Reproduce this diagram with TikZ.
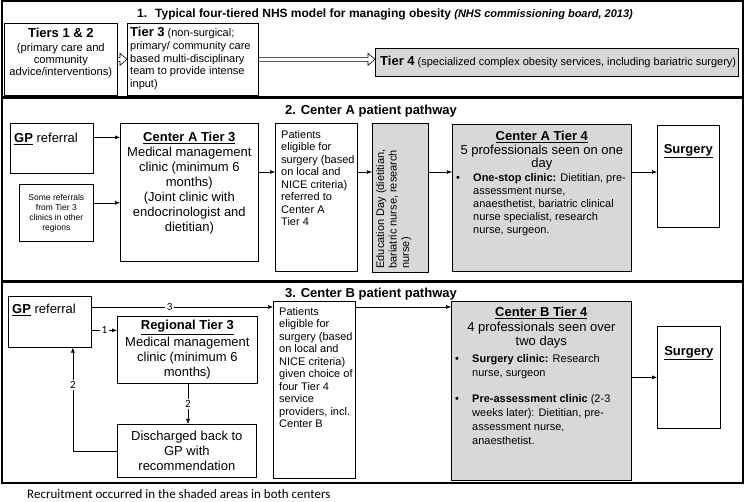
\documentclass[tikz,border=0pt]{standalone}
\usepackage{fontspec}
\setmainfont{Liberation Sans}
\newfontfamily\calibri{Carlito}
\usetikzlibrary{arrows.meta,positioning,calc}
\newcommand{\fsz}[2]{\fontsize{#1}{#2}\selectfont}
\definecolor{shade}{RGB}{216,216,216}

\begin{document}
\begin{tikzpicture}[x=1pt,y=-1pt,
    box/.style={draw, line width=0.7pt, inner sep=0pt, anchor=north west},
    grey/.style={box, fill=shade},
    panel/.style={draw, line width=1.2pt},
    txt/.style={inner sep=0pt, align=left, font=\fsz{11}{12.5}},
    head/.style={inner sep=0pt, align=center, font=\fsz{13}{15}},
    arr/.style={-{Latex[length=5pt,width=4pt]}, line width=0.6pt},
    num/.style={fill=white, inner sep=1.5pt, font=\calibri\fsz{11}{12}}]
    \useasboundingbox (0,0) rectangle (745,502);
    %% Panels
    \draw[panel] (2,1) rectangle (743,97);
    \draw[panel] (2,98) rectangle (743,281);
    \draw[panel] (2,282) rectangle (743,483);

    %% 1. NHS model
    \node[anchor=west, inner sep=0pt, font=\bfseries\fsz{12}{14}] (title1) at (137,14) {1.\hspace{8pt}Typical four-tiered NHS model for managing obesity {\itshape\fsz{11}{12}(NHS commissioning board, 2013)}};
    \node[box, minimum width=113pt, minimum height=72pt] (t12) at (4,23) {};
    \node[head, anchor=north, font=\fsz{11.2}{12}] (t12txt) at ([yshift=-5pt]t12.north) {{\fsz{13}{15}\textbf{Tiers 1 \& 2}}\\[2pt](primary care and\\community\\advice/interventions)};
    \node[box, minimum width=131pt, minimum height=72pt] (t3) at (127,23) {};
    \node[txt, anchor=north west, font=\fsz{11}{12.7}] (t3txt) at ([xshift=3pt,yshift=-4pt]t3.north west) {{\fsz{13}{15}\textbf{Tier 3}} (non-surgical;\\primary/ community care\\based multi-disciplinary\\team to provide intense\\input)};
    \node[grey, minimum width=363pt, minimum height=28pt] (t4) at (375,48) {};
    \node[txt, anchor=west, font=\fsz{11}{13}] (t4txt) at ([xshift=5pt]t4.west) {{\fsz{13}{15}\textbf{Tier 4}} (specialized complex obesity services, including bariatric surgery)};
    \coordinate (t3tip) at (t3.west |- t12.east);
    \coordinate (t4tip) at (t4.west |- t3.east);
    \draw[line width=0.6pt] ([yshift=2pt]t12.east) -- ([shift={(-7pt,2pt)}]t3tip) -- ([shift={(-7pt,6pt)}]t3tip) -- (t3tip) -- ([shift={(-7pt,-6pt)}]t3tip) -- ([shift={(-7pt,-2pt)}]t3tip) -- ([yshift=-2pt]t12.east);
    \draw[line width=0.6pt] ([yshift=2pt]t3.east) -- ([shift={(-7pt,2pt)}]t4tip) -- ([shift={(-7pt,6pt)}]t4tip) -- (t4tip) -- ([shift={(-7pt,-6pt)}]t4tip) -- ([shift={(-7pt,-2pt)}]t4tip) -- ([yshift=-2pt]t3.east);

    %% 2. Center A
    \node[head, font=\bfseries\fsz{13}{15}] (title2) at (371,111) {2. Center A patient pathway};
    \node[box, minimum width=83pt, minimum height=50pt] (gpA) at (10,123) {};
    \node[txt, anchor=north west, font=\fsz{13}{15}] (gpAtxt) at ([xshift=4pt,yshift=-10pt]gpA.north west) {\underline{\textbf{GP}} referral};
    \node[box, minimum width=74pt, minimum height=57pt, align=center, font=\fsz{8.5}{10}] (someA) at (19,184) {Some referrals\\from Tier 3\\clinics in other\\regions};
    \node[box, minimum width=138pt, minimum height=138pt] (tierA3) at (120,123) {};
    \node[head, anchor=north] (tierA3txt) at ([yshift=-9pt]tierA3.north) {\underline{\textbf{Center A Tier 3}}\\Medical management\\clinic (minimum 6\\months)\\(Joint clinic with\\endocrinologist and\\dietitian)};
    \node[box, minimum width=82pt, minimum height=148pt] (patA) at (275,123) {};
    \node[txt, anchor=north west] (patAtxt) at ([xshift=6pt,yshift=-7pt]patA.north west) {Patients\\eligible for\\surgery (based\\on local and\\NICE criteria)\\referred to\\Center A\\Tier 4};
    \node[grey, minimum width=56pt, minimum height=149pt] (eduA) at (372,123) {};
    \node[txt, rotate=90, anchor=north west] (eduAtxt) at ([xshift=4pt,yshift=4pt]eduA.south west) {Education Day (dietitian,\\bariatric nurse, research\\nurse)};
    \node[grey, minimum width=179pt, minimum height=147pt] (tierA4) at (452,124) {};
    \node[head, anchor=north, font=\fsz{13}{13.5}] (tierA4head) at ([yshift=-7pt]tierA4.north) {\underline{\textbf{Center A Tier 4}}\\5 professionals seen on one\\day};
    \node[txt, anchor=north west, font=\fsz{11}{13}] (tierA4list) at ([xshift=4pt,yshift=-48pt]tierA4.north west) {\begin{tabular}{@{}p{12pt}@{\hspace{5pt}}l@{}}
        \textbullet & \textbf{One-stop clinic:} Dietitian, pre-\\
        & assessment nurse,\\
        & anaesthetist, bariatric clinical\\
        & nurse specialist, research\\
        & nurse, surgeon.
    \end{tabular}};
    \node[box, minimum width=62pt, minimum height=102pt] (surgA) at (657,125) {};
    \node[head, anchor=north] (surgAtxt) at ([yshift=-19pt]surgA.north) {\underline{\textbf{Surgery}}};
    %% Center A arrows
    \coordinate (rowA) at (0,172);
    \coordinate (gpAout) at ([yshift=11pt]gpA.east);
    \coordinate (someAout) at ([yshift=10pt]someA.east);
    \draw[arr] (gpAout) -- (gpAout -| tierA3.west);
    \draw[arr] (someAout) -- (someAout -| tierA3.west);
    \draw[arr] (tierA3.east |- rowA) -- (patA.west |- rowA);
    \draw[arr] (patA.east |- rowA) -- (eduA.west |- rowA);
    \draw[arr] (eduA.east |- rowA) -- (tierA4.west |- rowA);
    \draw[arr] (tierA4.east |- rowA) -- (surgA.west |- rowA);

    %% 3. Center B
    \node[head, font=\bfseries\fsz{13}{15}] (title3) at (371,294) {3. Center B patient pathway};
    \node[box, minimum width=83pt, minimum height=51pt] (gpB) at (8,296) {};
    \node[txt, anchor=north west, font=\fsz{13}{15}] (gpBtxt) at ([xshift=4pt,yshift=-8pt]gpB.north west) {\underline{\textbf{GP}} referral};
    \node[box, minimum width=140pt, minimum height=67pt] (regB) at (117,316) {};
    \node[head, anchor=north] (regBtxt) at ([yshift=-4pt]regB.north) {\underline{\textbf{Regional Tier 3}}\\[2pt]Medical management\\clinic (minimum 6\\months)};
    \node[box, minimum width=139pt, minimum height=53pt, align=center, font=\fsz{13}{15}] (disB) at (117,424) {Discharged back to\\GP with\\recommendation};
    \node[box, minimum width=82pt, minimum height=177pt] (patB) at (273,301) {};
    \node[txt, anchor=north west] (patBtxt) at ([xshift=6pt,yshift=-6pt]patB.north west) {Patients\\eligible for\\surgery (based\\on local and\\NICE criteria)\\given choice of\\four Tier 4\\service\\providers, incl.\\Center B};
    \node[grey, minimum width=180pt, minimum height=179pt] (tierB4) at (451,301) {};
    \node[head, anchor=north, font=\fsz{13}{14.5}] (tierB4head) at ([yshift=-6pt]tierB4.north) {\underline{\textbf{Center B Tier 4}}\\4 professionals seen over\\two days};
    \node[txt, anchor=north west, font=\fsz{11}{14}] (tierB4list) at ([xshift=4pt,yshift=-52pt]tierB4.north west) {\begin{tabular}{@{}p{12pt}@{\hspace{5pt}}l@{}}
        \textbullet & \textbf{Surgery clinic:} Research\\
        & nurse, surgeon\\[12pt]
        \textbullet & \textbf{Pre-assessment clinic} (2-3\\
        & weeks later): Dietitian, pre-\\
        & assessment nurse,\\
        & anaesthetist.
    \end{tabular}};
    \node[box, minimum width=63pt, minimum height=102pt] (surgB) at (657,326) {};
    \node[head, anchor=north] (surgBtxt) at ([yshift=-20pt]surgB.north) {\underline{\textbf{Surgery}}};
    %% Center B arrows
    \coordinate (rowB) at (0,307);
    \coordinate (gpBout) at ([yshift=-8.5pt]gpB.east);
    \coordinate (disBin) at ([xshift=23pt]gpB.south);
    \draw[arr] (gpB.east |- rowB) -- (patB.west |- rowB) node[num, pos=0.43] {3};
    \draw[arr] (gpBout) -- (gpBout -| regB.west) node[num, pos=0.5] {1};
    \draw[arr] (regB.south -| 188,0) -- (disB.north -| 188,0) node[num, pos=0.5] {2};
    \draw[arr] (disB.west) -| (disBin) node[num, pos=0.82] {2};
    \draw[arr] (patB.east |- rowB) -- (tierB4.west |- rowB);
    \draw[arr] (tierB4.east |- surgB.west) -- (surgB.west);

    %% Note
    \node[anchor=west, inner sep=0pt, font=\calibri\fsz{13}{15}] (note) at (27,494) {Recruitment occurred in the shaded areas in both centers};
\end{tikzpicture}
\end{document}
